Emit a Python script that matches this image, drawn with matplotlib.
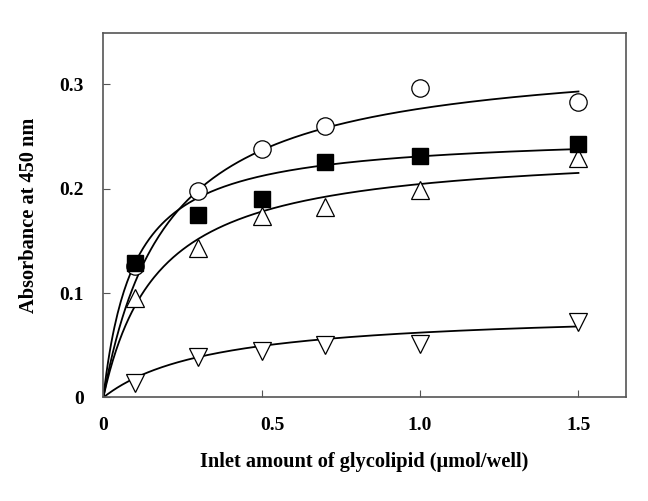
import numpy as np
import matplotlib
matplotlib.use('Agg')
import matplotlib.pyplot as plt
import matplotlib.transforms as mtransforms

plt.rcParams['font.family'] = ['Liberation Serif', 'DejaVu Serif']
plt.rcParams['font.weight'] = 'bold'

# inlet amount (umol/well)
x = [0.1, 0.3, 0.5, 0.7, 1.0, 1.5]
# absorbance at 450 nm
circ = [0.126, 0.198, 0.238, 0.260, 0.296, 0.283]
sq = [0.129, 0.175, 0.190, 0.226, 0.231, 0.243]
tri_up = [0.095, 0.143, 0.174, 0.182, 0.199, 0.229]
tri_dn = [0.014, 0.039, 0.045, 0.050, 0.051, 0.072]

# saturation fit (Bmax, Kd) for each series
fit_circ = (0.3325, 0.202)
fit_sq = (0.2533, 0.097)
fit_up = (0.240, 0.174)
fit_dn = (0.0839, 0.35)

xs = np.linspace(0, 1.5, 300)

def sat(p):
    return p[0] * xs / (p[1] + xs)

fig = plt.figure(figsize=(6.48, 5.01), dpi=100)
ax = fig.add_axes([0.1594, 0.2066, 0.8066, 0.7274])

for p in (fit_circ, fit_sq, fit_up, fit_dn):
    ax.plot(xs, sat(p), color='k', linewidth=1.3, zorder=1)

ax.plot(x, circ, 'o', ms=12.5, mfc='white', mec='k', mew=0.9, zorder=3)
ax.plot(x, sq, 's', ms=11, mfc='k', mec='k', zorder=4)
ax.plot(x, tri_up, '^', ms=13, mfc='white', mec='k', mew=0.9, zorder=3)
ax.plot(x, tri_dn, 'v', ms=13, mfc='white', mec='k', mew=0.9, zorder=3)

ax.set_xlim(0, 1.65)
ax.set_ylim(0, 0.349)
ax.set_xticks([0, 0.5, 1.0, 1.5])
ax.set_xticklabels(['0', '0.5', '1.0', '1.5'])
ax.set_yticks([0, 0.1, 0.2, 0.3])
ax.set_yticklabels(['0', '0.1', '0.2', '0.3'])
ax.tick_params(direction='in', length=5, width=0.8, color='#555555',
               labelsize=14, pad=14)
for s in ax.spines.values():
    s.set_color('#555555')
    s.set_linewidth(1.2)

# the 0.5 label sits a little right of its tick in the original
lab = ax.get_xticklabels()[1]
lab.set_transform(lab.get_transform() +
                  mtransforms.ScaledTranslation(0.11, 0, fig.dpi_scale_trans))

ax.set_xlabel('Inlet amount of glycolipid (\u03bcmol/well)', fontsize=14.7,
              fontweight='bold', labelpad=13)
ax.set_ylabel('Absorbance at 450 nm', fontsize=14.7, fontweight='bold',
              labelpad=15)

fig.savefig('out.png', dpi=100)
